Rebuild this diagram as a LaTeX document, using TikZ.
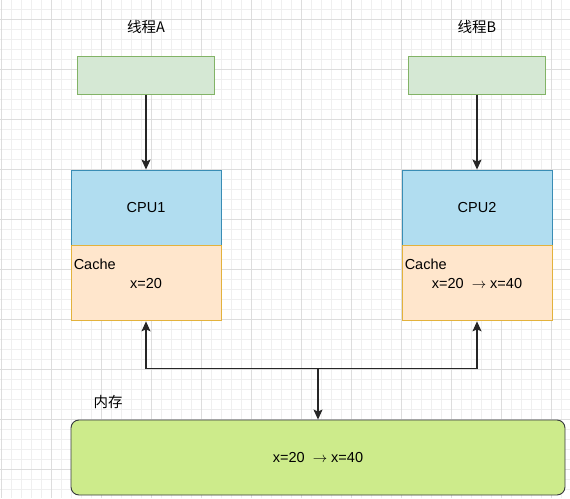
\documentclass[tikz,border=0pt]{standalone}
\usepackage{fontspec}
\setmainfont{Liberation Sans}
\newfontfamily\cjk{Noto Sans CJK SC}
\usepackage{xcolor}
\usetikzlibrary{arrows.meta,positioning,calc}
\definecolor{thrfill}{HTML}{D5E8D4}
\definecolor{thrline}{HTML}{82B366}
\definecolor{cpufill}{HTML}{B1DDF0}
\definecolor{cpuline}{HTML}{3A8DB5}
\definecolor{cachefill}{HTML}{FFE6CC}
\definecolor{cacheline}{HTML}{E3B23C}
\definecolor{memfill}{HTML}{CDEB8B}
\definecolor{memline}{HTML}{36393D}
\definecolor{gridmajor}{HTML}{DDDDDD}
\definecolor{gridminor}{HTML}{EFEFEF}

\begin{document}
\begin{tikzpicture}[x=1pt,y=-1pt,
  every node/.style={font=\fontsize{14.5}{17}\selectfont},
  thr/.style={draw=thrline,fill=thrfill,line width=0.9pt,minimum width=137pt,
              minimum height=38pt,inner sep=0pt},
  cpu/.style={draw=cpuline,fill=cpufill,line width=0.9pt,minimum width=150pt,
              minimum height=75pt,inner sep=0pt},
  cache/.style={draw=cacheline,fill=cachefill,line width=0.9pt,minimum width=150pt,
                minimum height=75pt,inner sep=0pt},
  mem/.style={draw=memline,fill=memfill,line width=0.9pt,rounded corners=8pt,
              minimum width=494pt,minimum height=75pt,inner sep=0pt},
  lbl/.style={inner sep=0pt},
  arrow/.style={-{Stealth[length=10pt,width=9pt,inset=2pt]},line width=1.1pt,draw=black!85}
]
\fill[white] (0,0) rectangle (570,498);
\useasboundingbox (0,0) rectangle (570,498);
\begin{scope}
  \clip (0,0) rectangle (570,498);
  \foreach \x in {1.5,11.5,...,571.5} \draw[gridminor,line width=0.8pt] (\x,0) -- (\x,498);
  \foreach \y in {9,19,...,499} \draw[gridminor,line width=0.8pt] (0,\y) -- (570,\y);
  \foreach \x in {1.5,51.5,...,551.5} \draw[gridmajor,line width=0.8pt] (\x,0) -- (\x,498);
  \foreach \y in {19,69,...,469} \draw[gridmajor,line width=0.8pt] (0,\y) -- (570,\y);
\end{scope}

\node[cpu] (cpuA) at (146,207.5) {CPU1};
\node[cache, below=0pt of cpuA] (cacheA) {x=20};
\node[lbl, anchor=west] (cacheAtag) at ([xshift=3pt,yshift=-19pt]cacheA.north west) {Cache};
\node[thr, above=75pt of cpuA] (thrA) {};
\node[lbl, above=22pt of thrA] (titleA) {\cjk 线程A};

\node[cpu] (cpuB) at (477,207.5) {CPU2};
\node[cache, below=0pt of cpuB] (cacheB) {x=20\ \ $\rightarrow$\ x=40};
\node[lbl, anchor=west] (cacheBtag) at ([xshift=3pt,yshift=-19pt]cacheB.north west) {Cache};
\node[thr, above=75pt of cpuB] (thrB) {};
\node[lbl, above=22pt of thrB] (titleB) {\cjk 线程B};

\node[mem] (mem) at (318,457.5) {x=20\ \ $\rightarrow$\ x=40};
\node[lbl] (memtag) at (108,402) {\cjk 内存};
\coordinate[above=51pt of mem.north] (bus);

\draw[arrow] (thrA) -- (cpuA);
\draw[arrow] (thrB) -- (cpuB);
\draw[arrow] (bus) -- (mem);
\draw[arrow] (bus) -| (cacheA);
\draw[arrow] (bus) -| (cacheB);
\end{tikzpicture}
\end{document}
